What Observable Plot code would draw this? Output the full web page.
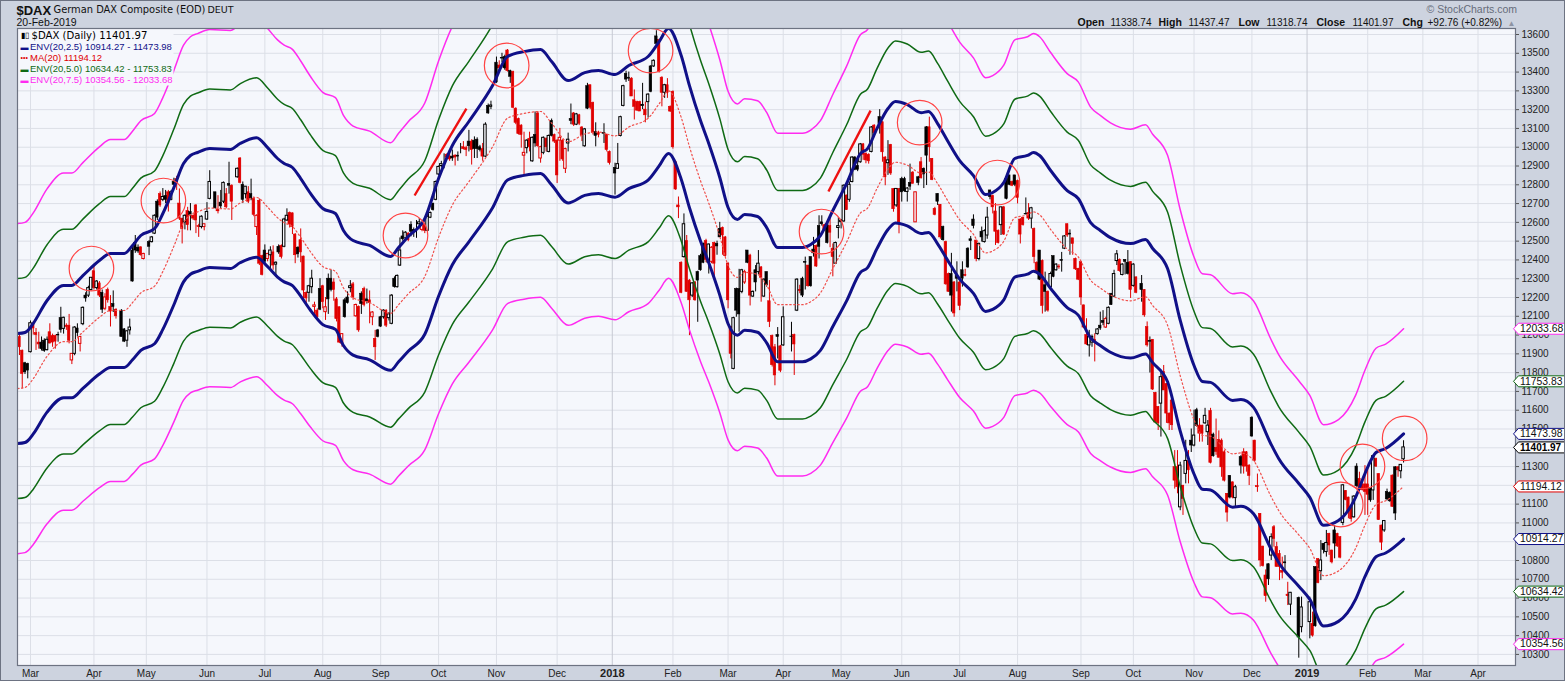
<!DOCTYPE html>
<html><head><meta charset="utf-8">
<style>html,body{margin:0;padding:0;background:#cdd3df;overflow:hidden}svg{display:block;outline:1px solid #6d7382;outline-offset:-1px}</style>
<script src="https://cdn.jsdelivr.net/npm/d3@7"></script>
<script src="https://cdn.jsdelivr.net/npm/@observablehq/plot@0.6"></script>
</head><body><div id="chart"></div>
<script>
// Daily candles, one small array per month: [open, high, low, close, 1 if close fell]. null = no visible bar.
const feb17=[[12025,12030,11950,11955],[11990,12001,11891,11935,1],[11917,11920,11714,11793,1],[11850,11855,11790,11802],[11846,11850,11767,11811]];
const mar17=[[11909,12075,11905,12063],[12060,12070,12000,12035,1],[12010,12035,11918,12000,1],[11960,12015,11925,11950,1],[11960,11990,11915,11925],[11970,11980,11908,11915],[11920,11990,11915,11975],[12015,12060,11953,11955,1],[11995,12005,11935,11960,1],[11995,12000,11925,11965,1],[12000,12015,11962,11998],[12090,12148,12010,12028],[12033,12095,12005,12092],[12050,12060,12025,12043,1],[12050,12110,11953,11970,1],[11865,11900,11843,11900,1],[11900,12045,11890,12040],[12035,12060,11990,12010],[11953,11990,11910,11990,1],[12058,12150,12050,12145],[12210,12225,12175,12195],[12210,12260,12200,12250],[12240,12305,12235,12305]];
const apr17=[[12340,12370,12240,12250,1],[12250,12290,12240,12285],[12275,12285,12200,12210,1],[12225,12240,12115,12135],[12140,12220,12130,12200,1],[12240,12250,12170,12185,1],[12150,12210,12043,12125,1],[12165,12235,12120,12150],[12135,12140,12085,12100,1],null,[12130,12135,11990,11990],[12030,12035,11960,11965],[11970,12025,11935,12020],[12025,12085,12000,12040],[12450,12480,12282,12285],[12490,12530,12435,12450],[12465,12480,12435,12445],[12467,12470,12420,12425,1],[12405,12435,12400,12432,1]];
const may17=[null,[12495,12503,12423,12470],[12495,12525,12490,12520],[12540,12640,12535,12635],[12710,12720,12610,12625],[12750,12762,12680,12690,1],[12720,12780,12710,12735],[12740,12770,12700,12720],[12760,12770,12655,12700,1],[12720,12770,12715,12760],[12815,12835,12795,12800],[12830,12845,12770,12810,1],[12700,12778,12610,12620,1],[12620,12620,12485,12565,1],[12600,12640,12560,12635],[12660,12680,12555,12585,1],[12655,12700,12555,12640],[12635,12640,12610,12620,1],[12690,12695,12540,12610,1],[12580,12590,12520,12575,1],[12575,12635,12565,12630],[12575,12590,12555,12590,1]];
const jun17=[[12615,12705,12610,12655],[12725,12875,12720,12815],null,[12760,12760,12670,12675],[12660,12742,12645,12665,1],[12705,12770,12672,12685],[12710,12815,12700,12810],[12750,12780,12672,12680,1],[12805,12920,12750,12795],[12795,12800,12610,12710,1],null,[12840,12890,12835,12885],[12940,12945,12805,12810,1],[12800,12815,12700,12720],[12750,12790,12725,12790],[12760,12790,12700,12710,1],[12750,12830,12715,12725],[12725,12735,12630,12640,1],[12575,12640,12530,12635,1],[12715,12725,12370,12380,1],[12420,12425,12315,12320,1]];
const jul17=[[12450,12480,12370,12390],[12405,12435,12390,12432,1],[12425,12470,12345,12450],[12440,12475,12345,12370,1],[12375,12390,12310,12385],[12470,12480,12430,12440],[12475,12480,12405,12415,1],[12470,12622,12465,12615],[12610,12672,12605,12635],[12650,12655,12570,12590,1],[12648,12650,12535,12575,1],[12535,12540,12380,12425,1],[12465,12470,12410,12430],[12505,12565,12385,12440,1],[12418,12420,12180,12237,1],[12225,12230,12155,12195,1],[12225,12265,12175,12260],[12255,12345,12220,12300],[12150,12175,12095,12158,1],[12130,12140,12087,12095,1],[12245,12300,12130,12135]];
const aug17=[[12260,12265,12140,12175,1],[12122,12200,12078,12148,1],[12300,12325,12110,12190],[12300,12345,12230,12240],[12280,12300,12180,12240,1],[12190,12200,12070,12085,1],[12148,12150,11955,11960,1],[11955,12005,11935,12005,1],[12185,12195,12090,12095],[12200,12230,12165,12170],[12250,12290,12225,12260],[12270,12280,12185,12200,1],[12100,12165,12095,12160,1],[12150,12155,12015,12025,1],[12220,12230,12110,12165],[12245,12255,12150,12160,1],[12190,12245,12165,12180],[12185,12235,12060,12170,1],[12095,12125,12050,12120,1],[11980,12025,11865,11935,1],[12025,12030,11985,11990]];
const sep17=[[12095,12100,12040,12045],[12095,12135,12085,12130],[12130,12135,12040,12050,1],[12090,12120,12075,12110],[12060,12215,12055,12210],[12300,12310,12250,12255],[12255,12320,12250,12315],[12370,12517,12365,12450],[12525,12555,12500,12510],[12515,12550,12510,12545],[12540,12545,12497,12505,1],[12585,12603,12523,12550],[12560,12570,12520,12550],[12560,12610,12515,12560],[12590,12620,12565,12600],[12560,12600,12550,12590,1],[12585,12595,12540,12555,1],[12555,12635,12550,12630],[12625,12655,12620,12650],[12700,12700,12660,12665],[12720,12820,12715,12815]];
const oct17=[[12855,12900,12850,12895],[12900,12925,12890,12910],[12955,12965,12885,12955],[12960,12965,12935,12945,1],[12950,12960,12925,12935,1],[12950,12985,12925,12940],[12955,12960,12900,12945,1],[12955,12975,12925,12950],[12985,13020,12965,12985],[13000,13030,12985,12990,1],[12995,13005,12950,12985,1],[13030,13090,12975,13005],[13030,13040,12905,12985,1],[13035,13055,12940,12990],[13040,13050,12940,12990],[13000,13010,12975,12985],[12990,13020,12925,12950,1],[12950,13130,12945,13120],[13220,13230,13175,13180],[13215,13245,13200,13222],null];
const nov17=[[13450,13480,13340,13345],[13435,13460,13400,13420,1],[13475,13500,13450,13472],[13480,13490,13410,13420],[13515,13520,13400,13405,1],[13405,13410,13340,13375],[13400,13405,13205,13210,1],[13205,13210,13120,13130,1],[13150,13155,13065,13070,1],[13115,13120,12995,13065,1],[12955,13080,12850,12970,1],[12995,13040,12965,13035],[13045,13080,12975,13000,1],[12925,13055,12920,13050],[13065,13188,13000,13020],[13180,13190,13000,13005,1],[12940,13005,12915,13000,1],[12970,13055,12960,13050],[13045,13050,12975,13000,1],[12975,13065,12970,13060],[13140,13150,13055,13060],[13065,13070,13020,13030,1]];
const dec17=[[13035,13040,12807,12850,1],[13035,13100,12925,13050,1],[13035,13040,12925,12935,1],[12885,12995,12860,12990,1],[13020,13075,12975,13040],[13150,13230,13120,13140],[13180,13185,13110,13120,1],[13120,13180,13115,13175],[13170,13175,13115,13125,1],[13105,13110,13030,13060,1],[13005,13100,13000,13095],[13325,13340,13200,13205],[13330,13330,13200,13210,1],[13235,13240,13065,13075,1],[13080,13130,13002,13060],[13075,13085,13050,13065,1],null,[13072,13125,13020,13075],[13065,13070,12975,12985,1],[12975,12980,12905,12915,1]];
const jan18=[null,[12890,12915,12745,12860],[12885,13020,12885,12910],[13060,13165,13055,13160],[13220,13330,13215,13325],[13390,13405,13345,13360],[13370,13400,13350,13365],[13365,13370,13270,13270,1],[13250,13305,13145,13215,1],[13240,13245,13190,13195,1],[13240,13245,13190,13190,1],[13220,13340,13200,13225],[13200,13240,13130,13170,1],[13240,13285,13155,13280],[13430,13435,13290,13295],[13430,13465,13425,13460],[13590,13620,13540,13550],[13570,13575,13395,13400,1],[13370,13375,13215,13290,1],[13290,13335,13260,13330],[13330,13365,13260,13290,1],[13215,13220,13185,13190,1]];
const feb18=[[13295,13300,12990,13000,1],[12920,12925,12770,12775,1],[12690,12735,12620,12680,1],[12385,12390,12220,12225,1],[12415,12645,12410,12590],[12500,12530,12228,12230,1],[12290,12295,11997,12185,1],[12210,12280,12200,12275],[12280,12285,12180,12185,1],[12335,12340,12068,12290],[12420,12430,12340,12345],[12485,12490,12380,12385],[12500,12510,12385,12400,1],[12385,12485,12325,12482],[12390,12470,12380,12465,1],[12490,12495,12310,12380,1],[12485,12500,12425,12472],[12565,12600,12520,12520],[12570,12575,12425,12530,1],[12520,12525,12415,12420,1]];
const mar18=[[12380,12385,12140,12185,1],[12042,12045,11873,11900,1],[11820,12095,11815,12090],[12245,12250,12095,12130],[12245,12350,12015,12110],[12230,12350,12220,12345],[12280,12345,12270,12335,1],[12450,12450,12380,12385],[12423,12430,12155,12210,1],[12205,12235,12200,12230],[12345,12370,12230,12280],[12335,12450,12320,12380],[12360,12365,12175,12305,1],[12205,12300,12200,12295],[12335,12335,12255,12265],[12180,12290,12040,12070,1],[11995,12000,11830,11840,1],[11935,11950,11730,11785,1],[12000,12040,11873,11990],[11940,11945,11800,11810,1]];
const apr18=[[11945,12150,11940,12095],null,null,[11992,12068,11910,11990],[12000,12005,11785,11950,1],[12130,12300,12125,12295],[12240,12265,12220,12235,1],[12300,12308,12200,12210],[12390,12415,12240,12385],[12370,12370,12255,12260,1],[12415,12415,12255,12260],[12455,12520,12415,12435],[12475,12480,12360,12365,1],[12580,12635,12405,12470],[12600,12635,12580,12590],[12585,12590,12555,12560,1],[12590,12595,12485,12490],[12580,12635,12465,12545,1],[12460,12485,12310,12415,1],[12380,12495,12375,12490],[12570,12625,12512,12580]];
const may18=[[12610,12615,12565,12600],[12605,12800,12600,12795],[12743,12745,12663,12665,1],[12720,12815,12707,12800],[12815,12950,12810,12945],[12945,12950,12875,12880],[12900,12925,12870,12880],[12920,13020,12915,13015],[13015,13020,12930,12960,1],[12965,12970,12912,12930,1],[12960,12965,12910,12925,1],[12975,13110,12970,13105],[13115,13120,13070,13075,1],null,[13160,13200,13070,13124],[13133,13135,12920,12973,1],[12945,12950,12795,12840,1],[12915,13035,12850,12930],[13012,13015,12850,12860,1],[12778,12780,12654,12670,1],[12690,12780,12680,12778],[12778,12780,12539,12600,1]];
const jun18=[[12830,12840,12708,12760],[12830,12840,12760,12765],[12762,12785,12708,12780],[12810,12910,12770,12790],[12865,12870,12805,12805,1],[12600,12760,12600,12760,1],[12840,12845,12795,12810],[12920,12945,12830,12835,1],[12885,12890,12780,12855],[13106,13110,12796,12955],[13106,13160,12920,13000,1],[12938,12940,12822,12825,1],[12672,12680,12635,12640,1],[12751,12752,12690,12710],[12693,12695,12510,12520,1],[12575,12580,12500,12505],[12495,12500,12265,12270,1],[12325,12330,12228,12230,1],[12325,12435,12122,12210],[12280,12285,12095,12115,1],[12315,12390,12230,12300]];
const jul18=[[12280,12285,12130,12155,1],[12345,12390,12255,12300],[12320,12350,12310,12315,1],[12460,12465,12355,12360],[12510,12525,12450,12500],[12615,12640,12565,12580],[12503,12505,12390,12405,1],[12405,12490,12395,12485],[12550,12575,12495,12520],[12495,12560,12490,12553],[12530,12680,12510,12625],[12770,12770,12720,12735],[12740,12745,12645,12680,1],[12658,12700,12477,12550,1],[12555,12560,12485,12490,1],[12585,12680,12530,12680],[12680,12685,12530,12535,1],[12830,12845,12720,12725],[12850,12850,12795,12800],[12815,12820,12790,12795,1],[12850,12850,12790,12800]];
const aug18=[[12820,12825,12698,12730,1],[12615,12620,12485,12535,1],[12625,12625,12580,12585,1],[12645,12730,12640,12642],[12650,12700,12610,12620,1],[12620,12680,12565,12675],[12565,12570,12380,12415,1],[12385,12390,12335,12340,1],[12450,12450,12290,12295],[12395,12400,12112,12155,1],[12265,12335,12122,12230],[12230,12235,12122,12130,1],[12255,12335,12250,12325],[12420,12420,12305,12310],[12345,12380,12340,12375],[12365,12375,12350,12360,1],[12400,12440,12335,12395],[12460,12530,12455,12525],[12590,12592,12520,12530,1],[12540,12560,12425,12535],[12515,12515,12425,12485,1],[12406,12410,12344,12350,1],[12353,12355,12290,12295,1]];
const sep18=[[12388,12390,12158,12200,1],[12158,12160,12034,12040,1],[12000,12087,11945,11950,1],[11945,12025,11883,11990],[11960,12000,11935,11990],[11975,12007,11857,11960,1],[12005,12034,12000,12030],[12050,12122,12025,12035],[12075,12130,12050,12065],[12040,12095,12035,12085,1],[12060,12150,12055,12145],[12220,12220,12158,12160],[12205,12345,12200,12325],[12394,12450,12370,12430],[12400,12405,12335,12340,1],[12320,12380,12315,12375],[12400,12400,12320,12390],[12385,12450,12320,12325],[12388,12390,12195,12240,1]];
const oct18=[[12262,12380,12255,12375],[12307,12310,12220,12225,1],null,[12273,12317,12175,12240],[12240,12242,12095,12105,1],[12042,12070,11936,11945,1],[11965,11990,11798,11968],[11975,11975,11705,11710,1],[11692,11695,11530,11535,1],[11617,11620,11492,11530,1],[11635,11812,11457,11776],[11803,11838,11705,11705,1],[11740,11742,11530,11582,1],[11582,11585,11492,11530,1],[11652,11670,11492,11520,1],[11297,11385,11180,11225,1],[11297,11385,11155,11190,1],[11083,11323,11065,11305],[11198,11200,11040,11128,1],[11261,11440,11208,11330],[11330,11385,11208,11280,1],[11438,11500,11375,11412]];
const nov18=[[11412,11600,11405,11465],[11600,11610,11510,11515],[11518,11555,11430,11475,1],[11518,11520,11430,11475,1],[11530,11610,11525,11570],[11483,11545,11412,11518],[11595,11610,11314,11320,1],[11470,11478,11350,11355],[11400,11553,11360,11378,1],[11442,11490,11345,11347,1],[11438,11447,11243,11296,1],[11376,11385,11218,11225,1],[11155,11155,11004,11055,1],[11250,11252,11128,11135],[11216,11218,11128,11135,1],[11132,11200,11083,11190],null,[11350,11358,11260,11305],[11376,11395,11260,11300,1],[11376,11380,11270,11300,1],[11305,11310,11199,11250,1]];
const dec18=[[11560,11565,11456,11460],[11438,11440,11323,11330,1],[11196,11260,11163,11190,1],[11048,11050,10765,10800,1],[10874,10876,10765,10770,1],[10720,10750,10578,10610,1],[10780,10782,10667,10700],[10826,10942,10800,10924],[10977,10986,10871,10915,1],[10871,10897,10764,10766,1],[10835,10853,10693,10765,1],[10745,10818,10702,10735,1],[10790,10826,10746,10785],[10618,10684,10560,10610,1],[10565,10630,10507,10628],null,null,[10600,10605,10280,10390],[10445,10605,10415,10550],null];
const jan19=[null,[10472,10605,10383,10578],[10463,10525,10392,10400,1],[10765,10765,10445,10450],[10807,10810,10676,10680,1],[10743,10906,10693,10800],[10889,10890,10835,10855],[10845,10960,10818,10893],[10942,10945,10827,10880,1],[10853,10855,10782,10790,1],[10960,10986,10809,10890],[10942,10945,10870,10875,1],[10924,10925,10809,10815,1],[11000,11205,10985,11200],[11170,11172,11118,11122,1],[11135,11137,11022,11060,1],[11082,11085,11004,11020,1],[11030,11146,11025,11140],[11300,11315,11190,11195],[11235,11270,11180,11190,1],[11205,11208,11170,11175,1],[11205,11305,11040,11165,1]];
const feb19=[[11205,11305,11040,11150,1],[11180,11182,11110,11120],[11173,11360,11120,11355],[11340,11345,11295,11300,1],[11260,11262,11013,11015,1],[10986,10988,10853,10895,1],[10960,11013,10950,11010],[11165,11180,11120,11125],[11160,11165,11110,11115],[11252,11255,11084,11085,1],[11296,11300,11013,11050],[11296,11300,11243,11280,1],[11275,11305,11235,11309],[11338.74,11437.47,11318.74,11401.97]];

// Time axis: bar number at which each month starts (bars are trading days, evenly spaced)
const monthLabels=["Mar","Apr","May","Jun","Jul","Aug","Sep","Oct","Nov","Dec","2018","Feb","Mar","Apr","May","Jun","Jul","Aug","Sep","Oct","Nov","Dec","2019","Feb","Mar","Apr"];
const monthBars=[0,23,42,64,85,106,127,148,169,191,211,233,253,273,294,316,337,358,381,400,422,443,463,485,505,525];
const barMonths=[feb17,mar17,apr17,may17,jun17,jul17,aug17,sep17,oct17,nov17,dec17,jan18,feb18,mar18,apr18,may18,jun18,jul18,aug18,sep18,oct18,nov18,dec18,jan19,feb19];
const barMonthStarts=[-5,...monthBars.slice(0,24)];

// Upper ENV(20,2.5) line at these bars; the other envelopes are the same moving average at the legend's percentages
const envBars=[-4.7,-2,-1,1,6,12,15,19,25,29,34,37,40,45,48,52,55.5,58,60.6,65,72.5,76,82,86,89.6,92,95,98,101.6,106,110.6,113.5,117,123,130.6,133.5,137,143,148,153,159,167.6,173,179,185,189,195,201,206,212,217,224,228,231.4,236,239,243,246,250,253,256.4,259,263.7,267,271,275.7,280,283,286.5,291,296,301,303.6,307,311,313.7,318,323,325.7,329,332.6,337,342,346.4,349,353,357,361.6,363.8,366,370,376,380,384.5,388,391.7,399,404.4,407,412.4,417,422,425,428,436,439,443.6,449.8,452.7,460,464,469,474.4,480.6,484,488,491.5,498];
const envUpper25=[12008,12014,12024,12062,12184,12264,12264,12317,12397,12434,12434,12477,12530,12567,12647,12785,12913,12956,12972,12993,12988,13020,13051,12998,12940,12913,12892,12833,12753,12674,12647,12557,12503,12477,12418,12466,12525,12620,12833,13009,13137,13328,13483,13509,13520,13456,13355,13397,13408,13387,13435,13483,13562,13632,13488,13328,13142,13020,12839,12679,12615,12642,12631,12572,12466,12466,12466,12482,12530,12663,12807,12966,12993,13099,13206,13243,13227,13184,13190,13126,13035,12929,12849,12748,12759,12812,12940,12956,12972,12956,12876,12769,12727,12599,12557,12519,12487,12509,12461,12354,12078,11838,11753,11748,11652,11657,11615,11423,11343,11210,11136,10987,11013,11136,11263,11375,11396,11473.98];
const envPercents=[[2.5,"#101088",3],[5,"#0f6a14",1.5],[7.5,"#ff2bf0",1.5]];

// Hand-drawn annotations
const circleBars=[22.1,48.2,136,172.7,224.9,286.9,322.5,350.7,475.2,483.1,498.4];
const circlePrices=[12354,12716,12530,13435,13514,12551,13131,12812,11098,11301,11450];
const trendFromBars=[139.3,289.4], trendFromPrices=[12743,12764], trendToBars=[158.1,304.7], trendToPrices=[13206,13195];

// Right-hand axis and value tags
const priceTicks=d3.range(10300,13601,100);
const ticksUnderTags=[11400,11200];
const tagValues=["12033.68","11753.83","11473.98","11401.97","11194.12","10914.27","10634.42","10354.56"];
const tagColors=["#ff2bf0","#0f6a14","#101088","#000000","#e00000","#101088","#0f6a14","#ff2bf0"];
const legendLabels=["$DAX (Daily) 11401.97","ENV(20,2.5) 10914.27 - 11473.98","MA(20) 11194.12","ENV(20,5.0) 10634.42 - 11753.83","ENV(20,7.5) 10354.56 - 12033.68"];
const legendColors=["#000000","#101088","#e00000","#0f6a14","#ff2bf0"];

const bg="#f5f7fc", red="#e00000", sans="'Liberation Sans',Arial,sans-serif", wide="'DejaVu Sans',sans-serif";
const bars=barMonths.flatMap((m,k)=>m.map((r,j)=>r&&({i:barMonthStarts[k]+j,o:r[0],h:r[1],l:r[2],c:r[3],red:r[4]===1}))).filter(Boolean);
const maPoints=envBars.map((i,k)=>({i,ma:envUpper25[k]/1.025}));
const months=monthBars.map((i,k)=>({i,label:monthLabels[k],year:/^\d/.test(monthLabels[k])}));
const tags=tagValues.map((t,k)=>({t,v:+t,color:tagColors[k]}));

// Text placed in page pixels relative to the plot frame's top-left corner
const label=(text,x,y,o={})=>Plot.text([text],{text:d=>d,frameAnchor:"top-left",dx:x-17,dy:y-28,textAnchor:"start",lineAnchor:"middle",fontSize:10,fill:"#111",...o});
const candles=(isRed,filled)=>{
  const s=bars.filter(b=>b.red===isRed&&(b.c<b.o)===filled), col=isRed?red:"#000";
  return [Plot.ruleX(s,{x:"i",y1:"l",y2:"h",stroke:col,strokeWidth:1,clip:true}),
          Plot.rect(s,{x1:d=>d.i-.45,x2:d=>d.i+.45,y1:"o",y2:"c",fill:filled?col:bg,stroke:col,strokeWidth:filled?.6:1,clip:true})];
};
const tagShape={draw(c){c.moveTo(-2,0);c.lineTo(3,-5.5);c.lineTo(49,-5.5);c.lineTo(49,5.5);c.lineTo(3,5.5);c.closePath();}};
const legendBox={draw(c){c.rect(0,0,156,57);}};

const plot=Plot.plot({
  width:1565,height:681,marginLeft:17,marginRight:50,marginTop:28,marginBottom:16,
  style:{fontFamily:sans,fontSize:"10px",background:"#cdd3df",overflow:"visible"},
  x:{domain:[-4.72,538.6],axis:null},
  y:{domain:[10241,13632],axis:null},
  marks:[
    Plot.frame({fill:bg,stroke:null}),
    Plot.gridY(priceTicks,{stroke:"#dcdfe7",strokeOpacity:1}),
    Plot.gridX(months.filter(d=>!d.year).map(d=>d.i),{stroke:"#dcdfe7",strokeOpacity:1}),
    Plot.gridX(months.filter(d=>d.year).map(d=>d.i),{stroke:"#c6c9d2",strokeOpacity:1}),
    ...[true,false].flatMap(r=>[...candles(r,true),...candles(r,false)]),
    Plot.line(maPoints,{x:"i",y:"ma",curve:"monotone-x",stroke:"#f0504c",strokeWidth:1.2,strokeDasharray:"1.5,2.5",clip:true}),
    ...envPercents.flatMap(([p,color,w])=>[1,-1].map(s=>
      Plot.line(maPoints,{x:"i",y:d=>d.ma*(1+s*p/100),curve:"monotone-x",stroke:color,strokeWidth:w,clip:true}))),
    Plot.dot(circleBars.map((i,k)=>({i,p:circlePrices[k]})),{x:"i",y:"p",r:22.3,stroke:"#f44",strokeWidth:1.2,fill:"none",clip:true}),
    Plot.link(trendFromBars.map((b,k)=>k),{x1:k=>trendFromBars[k],y1:k=>trendFromPrices[k],x2:k=>trendToBars[k],y2:k=>trendToPrices[k],stroke:"#ee1111",strokeWidth:2.4}),
    Plot.dot([0],{frameAnchor:"top-left",symbol:legendBox,fill:bg,stroke:null}),
    Plot.frame({stroke:"#6d7382",strokeWidth:1.2}),
    Plot.axisY(priceTicks,{anchor:"right",tickSize:3,tickPadding:3,tickFormat:d=>ticksUnderTags.includes(d)?"":String(d),label:null,fontSize:10,fill:"#222",stroke:"#555"}),
    Plot.text(months.filter(d=>!d.year),{x:"i",text:"label",frameAnchor:"bottom",dy:8,lineAnchor:"middle",fontSize:10,fill:"#222"}),
    Plot.text(months.filter(d=>d.year),{x:"i",text:"label",frameAnchor:"bottom",dy:8,lineAnchor:"middle",fontSize:11,fontWeight:"bold",fill:"#222"}),
    Plot.dot(tags,{y:"v",frameAnchor:"right",symbol:tagShape,fill:"#fff",stroke:"color",strokeWidth:1}),
    Plot.text(tags.filter(d=>d.color!=="#000000"),{y:"v",text:"t",frameAnchor:"right",dx:4.5,textAnchor:"start",fontSize:10.4,fill:"#111"}),
    Plot.text(tags.filter(d=>d.color==="#000000"),{y:"v",text:"t",frameAnchor:"right",dx:4.5,textAnchor:"start",fontSize:10,fontWeight:"bold",fill:"#000"}),
    // header
    label("$DAX",16,10,{fontSize:13,fontWeight:"bold"}),
    label("German DAX Composite (EOD)",53,9.5,{fontFamily:wide,fontSize:9.9}),
    label("DEUT",207,9.5,{fontFamily:wide,fontSize:9.5}),
    label("20-Feb-2019",16,22.5,{fontSize:10.5}),
    label("© StockCharts.com",1426,9.5,{fontSize:10.5,fill:"#666c7a"}),
    label("Open",1077,22.5,{fontWeight:"bold",fontSize:10.5}),label("11338.74",1110,22.5),
    label("High",1158,22.5,{fontWeight:"bold",fontSize:10.5}),label("11437.47",1188,22.5),
    label("Low",1238,22.5,{fontWeight:"bold",fontSize:10.5}),label("11318.74",1266,22.5),
    label("Close",1316,22.5,{fontWeight:"bold",fontSize:10.5}),label("11401.97",1352,22.5),
    label("Chg",1402,22.5,{fontWeight:"bold",fontSize:10.5}),label("+92.76 (+0.82%)",1427,22.5),
    label("▲",1507,22.5,{fontSize:8,fill:"#8d94a3"}),
    // legend
    label("▮▯",20,35,{fontSize:8,fill:"#000"}),
    label(legendLabels[0],31,35,{fontFamily:wide,fontSize:10.1,fill:legendColors[0]}),
    label("▬",20,46.5,{fontSize:8,fill:legendColors[1]}),label(legendLabels[1],29.5,46.5,{fontSize:9.5,fill:legendColors[1]}),
    label("•••",20,57.5,{fontSize:7,fill:legendColors[2]}),label(legendLabels[2],29.5,57.5,{fontSize:9.5,fill:legendColors[2]}),
    label("▬",20,68.5,{fontSize:8,fill:legendColors[3]}),label(legendLabels[3],29.5,68.5,{fontSize:9.5,fill:legendColors[3]}),
    label("▬",20,79.5,{fontSize:8,fill:legendColors[4]}),label(legendLabels[4],29.5,79.5,{fontSize:9.5,fill:legendColors[4]})
  ]
});
document.getElementById("chart").appendChild(plot);
</script></body></html>
